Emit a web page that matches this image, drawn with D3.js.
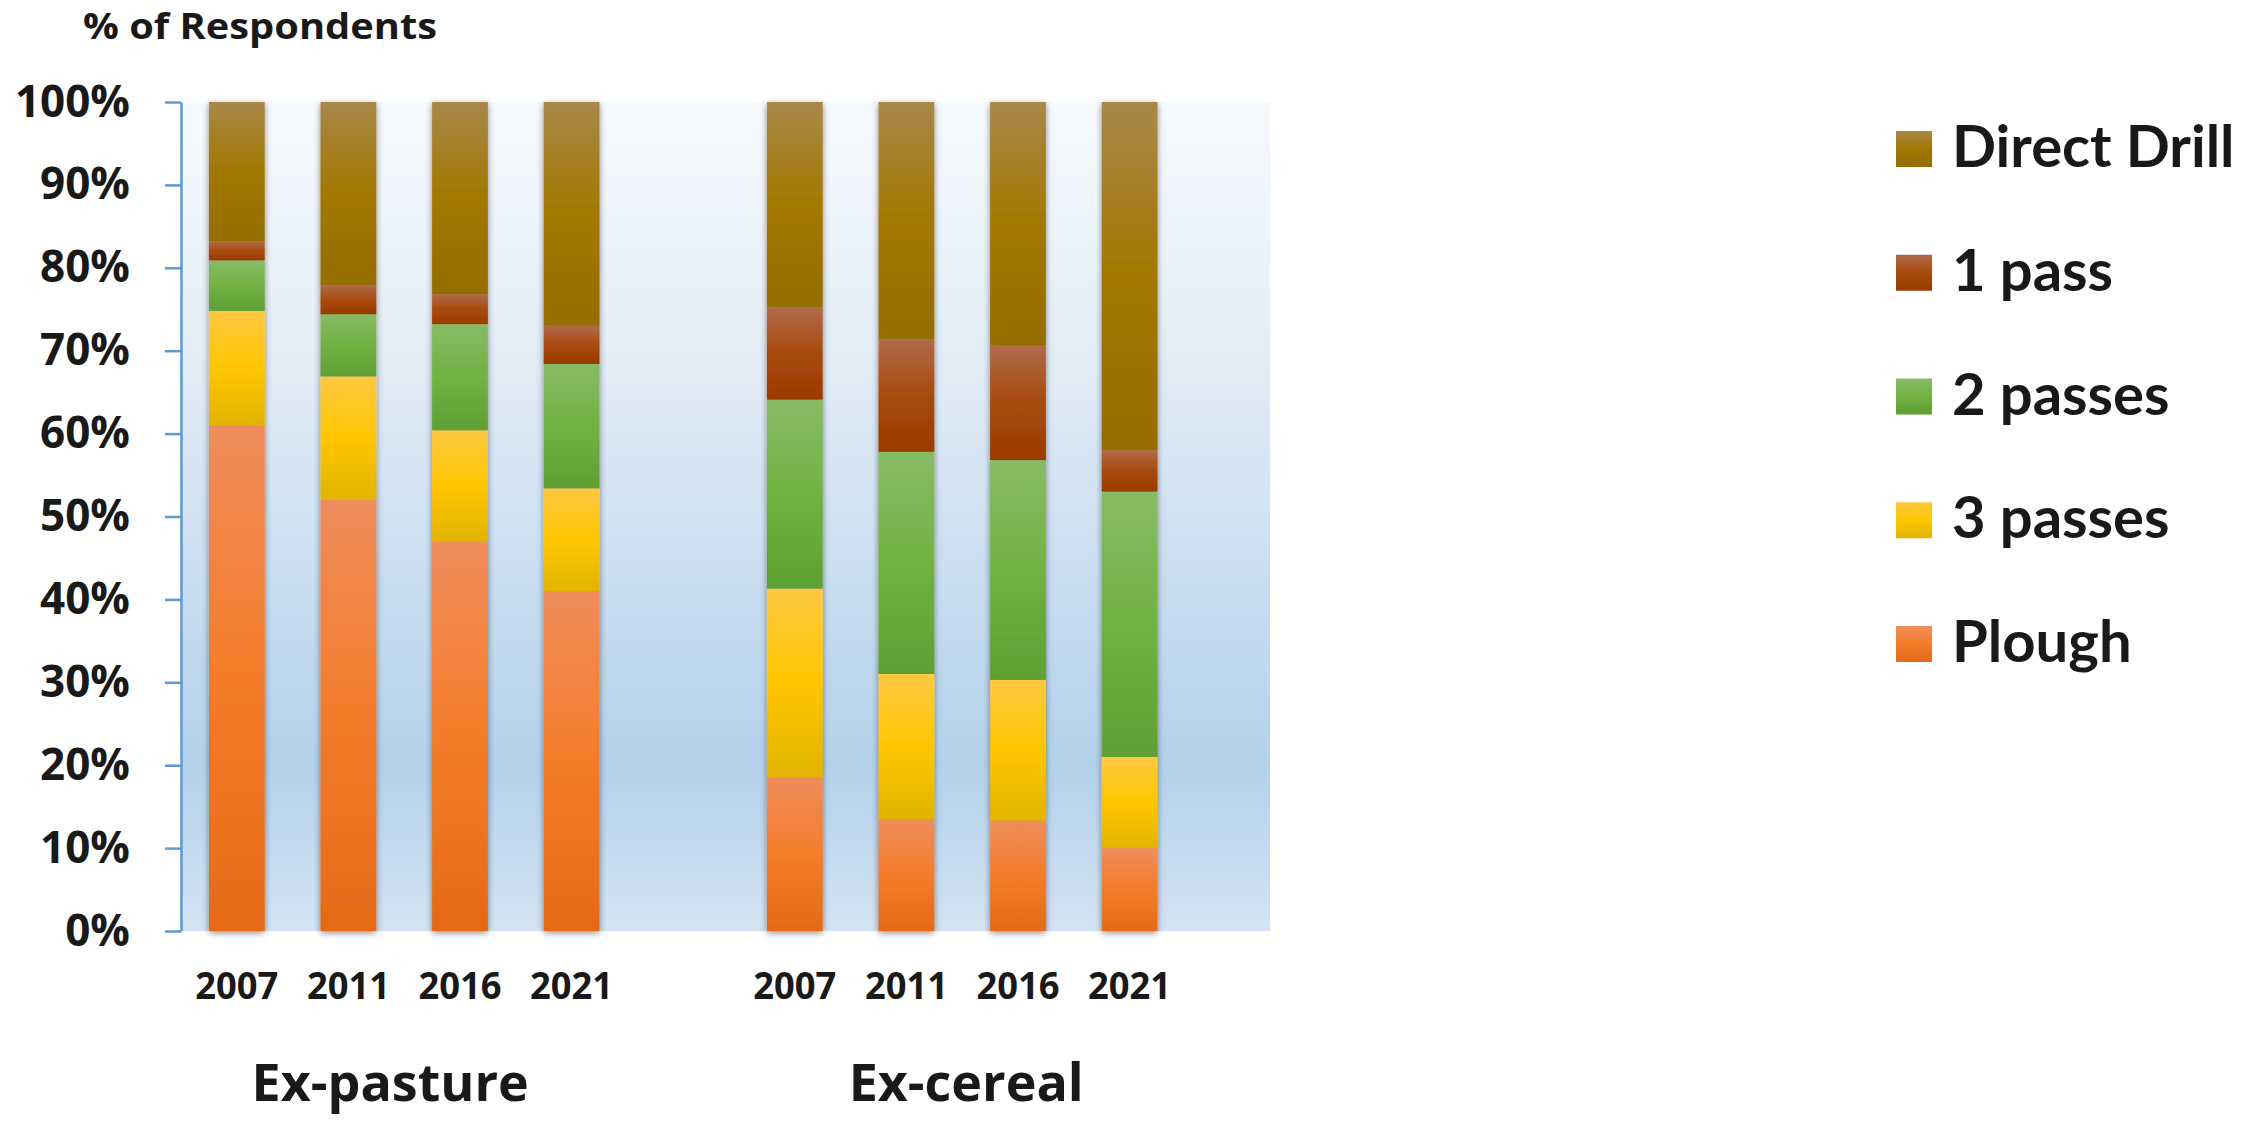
<!DOCTYPE html>
<html>
<head>
<meta charset="utf-8">
<script src="https://cdn.jsdelivr.net/npm/d3@7"></script>
<style>
  body { margin: 0; background: #fff; }
  text { font-family: "Open Sans", sans-serif; font-weight: bold; fill: #191919; }
  .legend text { font-family: Lato, "Open Sans", sans-serif; }
</style>
</head>
<body>
<div id="chart"></div>
<script>
// categories
const groups = ["Ex-pasture", "Ex-cereal"];
const years = ["2007", "2011", "2016", "2021"];
const seriesNames = ["Plough", "3 passes", "2 passes", "1 pass", "Direct Drill"];

// % of respondents, per bar: pasture 2007..2021 then cereal 2007..2021
const plough      = [61.0, 52.0, 47.0, 41.0, 18.5, 13.5, 13.3, 10.0];
const threePasses = [13.8, 14.9, 13.4, 12.4, 22.8, 17.5, 17.0, 11.0];
const twoPasses   = [ 6.1,  7.5, 12.8, 15.0, 22.8, 26.8, 26.5, 32.0];
const onePass     = [ 2.3,  3.5,  3.6,  4.6, 11.1, 13.6, 13.8,  5.0];
const directDrill = [16.8, 22.1, 23.2, 27.0, 24.8, 28.6, 29.4, 42.0];

const yTicks = [0, 0.1, 0.2, 0.3, 0.4, 0.5, 0.6, 0.7, 0.8, 0.9, 1];

// gradient stops (top, middle, bottom) for every series
const gradColors = {
    "Plough":       ["#f08d5c", "#f47c2a", "#e56a17"],
    "3 passes":     ["#ffc842", "#ffc600", "#e2b300"],
    "2 passes":     ["#87bb66", "#72b243", "#5f9f33"],
    "1 pass":       ["#b06a4a", "#a84a0d", "#9a3b00"],
    "Direct Drill": ["#a8884a", "#a27800", "#956d00"]
};

const W = 2250, H = 1121;
const plot = {left: 181, top: 102, right: 1270, bottom: 931};

const svg = d3.select("#chart").append("svg")
    .attr("width", W)
    .attr("height", H);

const defs = svg.append("defs");

// plot background gradient
const bg = defs.append("linearGradient")
    .attr("id", "bgGrad")
    .attr("x1", 0).attr("y1", 0).attr("x2", 0).attr("y2", 1);
[[0, "#f7fafd"], [0.3, "#e3edf7"], [0.8, "#b4d1eb"], [1, "#d3e3f3"]].forEach(function(s) {
    bg.append("stop").attr("offset", s[0]).attr("stop-color", s[1]);
});

seriesNames.forEach(function(name, i) {
    const g = defs.append("linearGradient")
        .attr("id", "grad" + i)
        .attr("x1", 0).attr("y1", 0).attr("x2", 0).attr("y2", 1);
    g.append("stop").attr("offset", 0).attr("stop-color", gradColors[name][0]);
    g.append("stop").attr("offset", 0.5).attr("stop-color", gradColors[name][1]);
    g.append("stop").attr("offset", 1).attr("stop-color", gradColors[name][2]);
});

// soft shadow round the bars
const shadow = defs.append("filter")
    .attr("id", "shadow")
    .attr("x", "-30%").attr("y", "-5%").attr("width", "160%").attr("height", "110%");
shadow.append("feDropShadow")
    .attr("dx", 0).attr("dy", 2)
    .attr("stdDeviation", 3)
    .attr("flood-color", "#000")
    .attr("flood-opacity", 0.45);

// Build rows for the stack
const valueLists = [plough, threePasses, twoPasses, onePass, directDrill];
const rows = [];
groups.forEach(function(grp, gi) {
    years.forEach(function(yr, yi) {
        const row = {group: grp, year: yr};
        seriesNames.forEach(function(s, si) {
            row[s] = valueLists[si][gi * years.length + yi];
        });
        rows.push(row);
    });
});

const stacked = d3.stack()
    .keys(seriesNames)
    .offset(d3.stackOffsetExpand)(rows);

// Scales
const y = d3.scaleLinear()
    .domain([0, 1])
    .range([plot.bottom, plot.top]);

const x0 = d3.scaleBand()
    .domain(groups)
    .range([plot.left, 1185.4])
    .paddingInner(0.2);

const x1 = d3.scaleBand()
    .domain(years)
    .range([0, x0.bandwidth()])
    .paddingInner(0.5)
    .paddingOuter(0.25);

function barX(row) {
    return x0(row.group) + x1(row.year);
}

// plot area
svg.append("rect")
    .attr("x", plot.left)
    .attr("y", plot.top)
    .attr("width", plot.right - plot.left)
    .attr("height", plot.bottom - plot.top)
    .attr("fill", "url(#bgGrad)");

// bars, one group per column so the shadow sits behind the whole stack
const bars = svg.append("g").selectAll("g.bar")
    .data(rows)
    .join("g")
    .attr("class", "bar")
    .attr("filter", "url(#shadow)");

bars.selectAll("rect")
    .data(function(row, i) {
        return stacked.map(function(s, si) { return {si: si, seg: s[i], row: row}; });
    })
    .join("rect")
    .attr("x", d => barX(d.row))
    .attr("width", x1.bandwidth())
    .attr("y", d => y(d.seg[1]))
    .attr("height", d => y(d.seg[0]) - y(d.seg[1]))
    .attr("fill", d => "url(#grad" + d.si + ")");

// y axis
const yAxis = d3.axisLeft(y)
    .tickValues(yTicks)
    .tickFormat(d3.format(".0%"))
    .tickSize(16)
    .tickSizeOuter(0)
    .tickPadding(35);

const yg = svg.append("g")
    .attr("transform", "translate(" + plot.left + ",0)")
    .call(yAxis);

yg.select(".domain").attr("stroke", "#5b9bd5").attr("stroke-width", 2.5);
yg.selectAll(".tick line").attr("stroke", "#5b9bd5").attr("stroke-width", 2.5);
yg.selectAll(".tick text")
    .attr("font-size", 44)
    .attr("font-family", "'Open Sans', sans-serif")
    .attr("font-weight", "bold")
    .attr("fill", "#191919");

// year labels under the bars
svg.append("g").selectAll("text")
    .data(rows)
    .join("text")
    .attr("x", d => barX(d) + x1.bandwidth() / 2)
    .attr("y", 999)
    .attr("text-anchor", "middle")
    .attr("font-size", 38)
    .attr("textLength", 83)
    .attr("lengthAdjust", "spacingAndGlyphs")
    .text(d => d.year);

// group labels
svg.append("g").selectAll("text")
    .data(groups)
    .join("text")
    .attr("x", (d, i) => x0(d) + x0.bandwidth() / 2 - (i === 0 ? 14 : -4))
    .attr("y", 1101)
    .attr("text-anchor", "middle")
    .attr("font-size", 52)
    .text(d => d);

// axis title
svg.append("text")
    .attr("x", 83)
    .attr("y", 39)
    .attr("font-size", 35)
    .attr("textLength", 354)
    .attr("lengthAdjust", "spacingAndGlyphs")
    .text("% of Respondents");

// Legend (top item is Direct Drill)
const legendItems = seriesNames.map((s, i) => ({name: s, i: i})).reverse();
const legendY = d3.scalePoint()
    .domain(legendItems.map(d => d.name))
    .range([131, 626]);

const legend = svg.append("g")
    .attr("class", "legend")
    .selectAll("g")
    .data(legendItems)
    .join("g")
    .attr("transform", d => "translate(1896," + legendY(d.name) + ")");

legend.append("rect")
    .attr("width", 36)
    .attr("height", 36)
    .attr("fill", d => "url(#grad" + d.i + ")");

legend.append("text")
    .attr("x", 56)
    .attr("y", 36)
    .attr("font-size", 58)
    .text(d => d.name);
</script>
</body>
</html>
